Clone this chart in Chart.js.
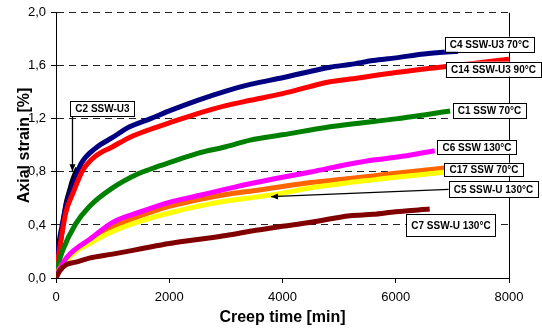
<!DOCTYPE html>
<html>
<head>
<meta charset="utf-8">
<script src="https://cdn.jsdelivr.net/npm/chart.js@4"></script>
<style>
  html, body { margin: 0; padding: 0; background: #fff; }
</style>
</head>
<body>
<canvas id="creepChart" width="542" height="328"></canvas>
<script>
// creep curves, values (time in min, strain in %)
const c2Time = [0, 20, 60, 120, 177, 240, 294, 340, 383];
const c2Strain = [0, 0.08, 0.21, 0.40, 0.56, 0.66, 0.74, 0.79, 0.83];

const c4Time = [0, 50, 100, 180, 300, 440, 700, 1000, 1300, 1660, 2000, 2500, 3000, 3430, 4000, 4840, 5190, 5600, 6000, 6500, 7100];
const c4Strain = [0, 0.25, 0.38, 0.55, 0.70, 0.86, 0.98, 1.06, 1.14, 1.20, 1.26, 1.34, 1.41, 1.46, 1.51, 1.59, 1.61, 1.64, 1.66, 1.69, 1.71];

const c14Time = [0, 50, 100, 177, 300, 470, 700, 1000, 1300, 1660, 2000, 2500, 3000, 3430, 4000, 4840, 5190, 6000, 6780, 7400, 8000];
const c14Strain = [0, 0.18, 0.32, 0.50, 0.64, 0.81, 0.92, 0.99, 1.06, 1.12, 1.17, 1.24, 1.30, 1.34, 1.39, 1.48, 1.50, 1.55, 1.59, 1.62, 1.65];

const c1Time = [0, 40, 120, 350, 590, 1000, 1470, 1660, 2000, 2500, 3000, 3430, 4000, 4840, 5190, 6000, 6500, 6960];
const c1Strain = [0, 0.10, 0.21, 0.41, 0.54, 0.68, 0.79, 0.82, 0.87, 0.94, 0.99, 1.04, 1.08, 1.14, 1.16, 1.20, 1.23, 1.26];

const c6Time = [0, 60, 180, 350, 590, 1000, 1500, 2000, 2500, 3000, 3530, 4000, 4500, 5190, 5600, 6000, 6690];
const c6Strain = [0, 0.06, 0.15, 0.22, 0.29, 0.42, 0.50, 0.57, 0.62, 0.67, 0.72, 0.76, 0.80, 0.86, 0.89, 0.91, 0.96];

const c17Time = [0, 60, 180, 350, 590, 1000, 1500, 2000, 2500, 3000, 3530, 4000, 4500, 5190, 5600, 6000, 6870];
const c17Strain = [0, 0.07, 0.14, 0.21, 0.27, 0.385, 0.47, 0.54, 0.59, 0.63, 0.66, 0.69, 0.72, 0.75, 0.77, 0.79, 0.83];

const c5Time = [0, 60, 180, 350, 590, 1000, 1500, 2000, 2500, 3000, 3530, 4000, 4500, 5190, 5600, 6000, 6900];
const c5Strain = [0, 0.06, 0.13, 0.20, 0.26, 0.35, 0.43, 0.49, 0.54, 0.58, 0.61, 0.64, 0.68, 0.72, 0.74, 0.76, 0.80];

const c7Time = [0, 60, 180, 350, 590, 1000, 1500, 2000, 2500, 3000, 3530, 4000, 4500, 5190, 5600, 6000, 6600];
const c7Strain = [0, 0.05, 0.10, 0.12, 0.15, 0.18, 0.22, 0.26, 0.29, 0.32, 0.36, 0.39, 0.42, 0.47, 0.48, 0.50, 0.52];

const yTicks = [0, 0.4, 0.8, 1.2, 1.6, 2.0];
const xTicks = [0, 2000, 4000, 6000, 8000];

// callout boxes, placed in data units
const callouts = [
    { text: 'C2 SSW-U3', t: 821, v: 1.278, h: 15, arrow: { t: 291, v: 0.805, from: 'bottom' } },
    { text: 'C4 SSW-U3 70°C', t: 7655, v: 1.763, h: 15 },
    { text: 'C14 SSW-U3 90°C', t: 7726, v: 1.575, h: 15 },
    { text: 'C1 SSW 70°C', t: 7655, v: 1.263, h: 15 },
    { text: 'C6 SSW 130°C', t: 7435, v: 0.989, h: 14 },
    { text: 'C17 SSW 70°C', t: 7558, v: 0.820, h: 13 },
    { text: 'C5 SSW-U 130°C', t: 7726, v: 0.669, h: 16, arrow: { t: 3797, v: 0.613, from: 'left' } },
    { text: 'C7 SSW-U 130°C', t: 6975, v: 0.398, h: 22 }
];

const FONT = '"Liberation Sans", Arial, sans-serif';

const toPoints = (times, values) => times.map((t, i) => ({ x: t, y: values[i] }));

const series = (data, color) => ({
    data: data,
    borderColor: color,
    backgroundColor: color,
    borderWidth: 5,
    pointRadius: 0,
    fill: false,
    cubicInterpolationMode: 'monotone'
});

const drawArrowHead = (ctx, x1, y1, x2, y2) => {
    const ang = Math.atan2(y2 - y1, x2 - x1);
    const len = 7, wid = 3;
    ctx.beginPath();
    ctx.moveTo(x2, y2);
    ctx.lineTo(x2 - len * Math.cos(ang) + wid * Math.sin(ang), y2 - len * Math.sin(ang) - wid * Math.cos(ang));
    ctx.lineTo(x2 - len * Math.cos(ang) - wid * Math.sin(ang), y2 - len * Math.sin(ang) + wid * Math.cos(ang));
    ctx.closePath();
    ctx.fill();
};

const calloutPlugin = {
    id: 'callouts',
    afterDatasetsDraw(chart) {
        const { ctx, scales: { x, y } } = chart;
        ctx.save();
        ctx.font = 'bold 10px ' + FONT;
        callouts.forEach(c => {
            const cx = x.getPixelForValue(c.t);
            const cy = y.getPixelForValue(c.v);
            const w = ctx.measureText(c.text).width + 10;
            const left = cx - w / 2, top = cy - c.h / 2;

            if (c.arrow) {
                const tx = x.getPixelForValue(c.arrow.t);
                const ty = y.getPixelForValue(c.arrow.v);
                let sx, sy;
                if (c.arrow.from === 'bottom') { sx = tx; sy = top + c.h; }
                else { sx = left; sy = cy; }
                ctx.strokeStyle = '#000';
                ctx.fillStyle = '#000';
                ctx.lineWidth = 1.3;
                ctx.beginPath();
                ctx.moveTo(sx, sy);
                ctx.lineTo(tx, ty);
                ctx.stroke();
                drawArrowHead(ctx, sx, sy, tx, ty);
            }

            ctx.fillStyle = '#fff';
            ctx.fillRect(left, top, w, c.h);
            ctx.strokeStyle = '#000';
            ctx.lineWidth = 1;
            ctx.strokeRect(Math.round(left) + 0.5, Math.round(top) + 0.5, Math.round(w), Math.round(c.h));
            ctx.fillStyle = '#000';
            ctx.textAlign = 'center';
            ctx.textBaseline = 'middle';
            ctx.fillText(c.text, cx, cy + 1);
        });
        ctx.restore();
    }
};

const config = {
    type: 'line',
    data: {
        datasets: [
            series(toPoints(c7Time, c7Strain), '#800000'),
            series(toPoints(c6Time, c6Strain), '#ff00ff'),
            series(toPoints(c5Time, c5Strain), '#ffff00'),
            series(toPoints(c17Time, c17Strain), '#ff6600'),
            series(toPoints(c1Time, c1Strain), '#008000'),
            series(toPoints(c14Time, c14Strain), '#ff0000'),
            series(toPoints(c4Time, c4Strain), '#000080'),
            series(toPoints(c2Time, c2Strain), '#000000')
        ]
    },
    options: {
        responsive: false,
        animation: false,
        layout: { padding: { top: 12, right: 33, left: 0, bottom: 0 } },
        plugins: {
            legend: { display: false },
            tooltip: { enabled: false }
        },
        scales: {
            x: {
                type: 'linear',
                min: 0,
                max: 8000,
                afterFit: s => { s.height = 50; },
                afterBuildTicks: s => { s.ticks = xTicks.map(v => ({ value: v })); },
                ticks: {
                    color: '#000',
                    padding: 7,
                    font: { family: FONT, size: 13 },
                    callback: v => String(v)
                },
                grid: {
                    color: ctx => (ctx.tick && ctx.tick.value === 8000 ? '#000' : 'rgba(0,0,0,0)'),
                    tickColor: '#000',
                    tickLength: 5
                },
                border: { display: true, color: '#000', width: 1 },
                title: {
                    display: true,
                    text: 'Creep time [min]',
                    color: '#000',
                    font: { family: FONT, size: 16, weight: 'bold' },
                    padding: { top: 0, bottom: 1 }
                }
            },
            y: {
                type: 'linear',
                min: 0,
                max: 2,
                afterFit: s => { s.width = 56; },
                afterBuildTicks: s => { s.ticks = yTicks.map(v => ({ value: v })); },
                ticks: {
                    color: '#000',
                    padding: 5,
                    font: { family: FONT, size: 13 },
                    callback: v => v.toFixed(1).replace('.', ',')
                },
                grid: {
                    color: '#222',
                    tickColor: '#000',
                    tickLength: 5,
                    tickBorderDash: []
                },
                border: { display: true, color: '#000', width: 1, dash: [7, 5] },
                title: {
                    display: true,
                    text: 'Axial strain [%]',
                    color: '#000',
                    font: { family: FONT, size: 16, weight: 'bold' },
                    padding: { top: 15, bottom: 0 }
                }
            }
        }
    },
    plugins: [calloutPlugin]
};

new Chart(document.getElementById('creepChart'), config);
</script>
</body>
</html>
